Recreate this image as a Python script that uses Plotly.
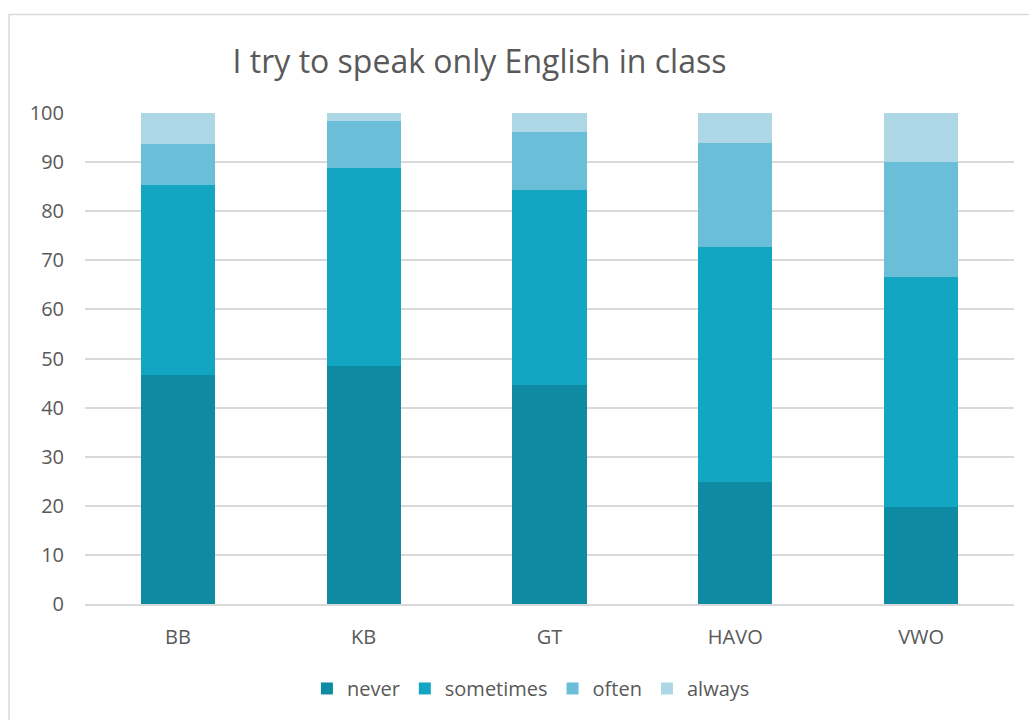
import plotly.graph_objects as go

categories = ["BB", "KB", "GT", "HAVO", "VWO"]
never = [46.7, 48.4, 44.6, 24.9, 19.8]
sometimes = [38.7, 40.4, 39.8, 47.8, 46.7]
often = [8.3, 9.6, 11.8, 21.1, 23.6]
always = [6.3, 1.6, 3.8, 6.2, 9.9]
y_ticks = [0, 10, 20, 30, 40, 50, 60, 70, 80, 90, 100]

series = [
    ("never", never, "#0E8BA3"),
    ("sometimes", sometimes, "#13A6C3"),
    ("often", often, "#6BBED8"),
    ("always", always, "#AED7E5"),
]

fig = go.Figure()
for name, vals, col in series:
    fig.add_trace(go.Bar(x=categories, y=vals, name=name,
                         marker=dict(color=col, line=dict(width=0))))

font = "Open Sans, Lato, sans-serif"
fig.update_layout(
    barmode="stack",
    bargap=0.6,
    width=1029, height=720,
    margin=dict(l=85, r=15, t=113, b=113),
    plot_bgcolor="white", paper_bgcolor="white",
    font=dict(family=font, color="#595959", size=20),
    title=dict(text="I try to speak only English in class", x=0.466, xref="container",
               xanchor="center", y=1 - 62 / 720, yanchor="middle",
               font=dict(size=32, color="#595959", family=font)),
    xaxis=dict(showgrid=False, showline=True, linecolor="#D9D9D9", linewidth=2,
               ticks="", ticklabelstandoff=14, tickfont=dict(size=20)),
    yaxis=dict(range=[0, 100], tickvals=y_ticks, showgrid=True, gridcolor="#D9D9D9",
               gridwidth=2, zeroline=False, ticks="", ticklabelstandoff=20,
               tickfont=dict(size=20)),
    legend=dict(orientation="h", x=0.48, xanchor="center", y=-0.172, yanchor="middle",
                font=dict(size=20), traceorder="normal", itemwidth=30),
    showlegend=True,
)
fig.add_shape(type="rect", xref="paper", yref="paper",
              x0=(9 - 85) / 929, x1=(1040 - 85) / 929,
              y0=(607 - 730) / 494, y1=(607 - 14) / 494,
              line=dict(color="#D9D9D9", width=1.5), fillcolor="rgba(0,0,0,0)", layer="below")

fig.write_html("out.html")
